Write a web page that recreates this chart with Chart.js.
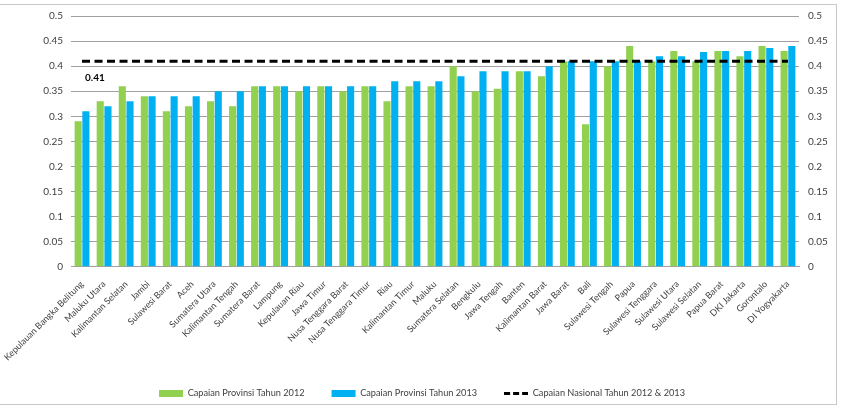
<!DOCTYPE html>
<html>
<head>
<meta charset="utf-8">
<script src="https://cdn.jsdelivr.net/npm/chart.js@4.4.1/dist/chart.umd.min.js"></script>
<style>
    html, body { margin: 0; padding: 0; background: #fff; }
    #wrap { position: relative; width: 844px; height: 408px; }
    #frame { position: absolute; left: -1px; top: 4px; width: 836px; height: 399px; border: 1px solid #c8c8c8; pointer-events: none; }
</style>
</head>
<body>
<div id="wrap">
    <canvas id="capaian" width="844" height="408"></canvas>
    <div id="frame"></div>
</div>
<script>
const provinsi = [
    'Kepulauan Bangka Belitung', 'Maluku Utara', 'Kalimantan Selatan', 'Jambi', 'Sulawesi Barat',
    'Aceh', 'Sumatera Utara', 'Kalimantan Tengah', 'Sumatera Barat', 'Lampung', 'Kepulauan Riau',
    'Jawa Timur', 'Nusa Tenggara Barat', 'Nusa Tenggara Timur', 'Riau', 'Kalimantan Timur', 'Maluku',
    'Sumatera Selatan', 'Bengkulu', 'Jawa Tengah', 'Banten', 'Kalimantan Barat', 'Jawa Barat', 'Bali',
    'Sulawesi Tengah', 'Papua', 'Sulawesi Tenggara', 'Sulawesi Utara', 'Sulawesi Selatan', 'Papua Barat',
    'DKI Jakarta', 'Gorontalo', 'DI Yogyakarta'
]
const capaian2012 = [
    0.29, 0.33, 0.36, 0.34, 0.31, 0.32, 0.33, 0.32, 0.36, 0.36, 0.35,
    0.36, 0.35, 0.36, 0.33, 0.36, 0.36, 0.40, 0.35, 0.355, 0.39, 0.38,
    0.41, 0.284, 0.40, 0.44, 0.41, 0.43, 0.41, 0.43, 0.42, 0.44, 0.43
]
const capaian2013 = [
    0.31, 0.32, 0.33, 0.34, 0.34, 0.34, 0.35, 0.35, 0.36, 0.36, 0.36,
    0.36, 0.36, 0.36, 0.37, 0.37, 0.37, 0.38, 0.39, 0.39, 0.39, 0.40,
    0.41, 0.41, 0.41, 0.41, 0.42, 0.42, 0.428, 0.43, 0.43, 0.436, 0.44
]
const capaianNasional = 0.41
const labelNasional = '0.41'

const hijau = '#92d050'
const biru = '#00b0f0'
const fontFamily = 'Lato, "Liberation Sans", sans-serif'
const warnaTeks = '#404040'

// small dashed sample for the legend entry of the national line
function makeDashIcon() {
    const c = document.createElement('canvas')
    c.width = 24
    c.height = 3
    const ctx = c.getContext('2d')
    ctx.fillStyle = '#000'
    ctx.fillRect(0, 0, 6, 3)
    ctx.fillRect(9, 0, 6, 3)
    ctx.fillRect(18, 0, 6, 3)
    return c
}
const dashIcon = makeDashIcon()

const labelNasionalPlugin = {
    id: 'labelNasional',
    afterDatasetsDraw(chart) {
        const meta = chart.getDatasetMeta(2)
        const pt = meta.data[0]
        if (!pt) return
        const ctx = chart.ctx
        ctx.save()
        ctx.font = 'bold 10px ' + fontFamily
        ctx.fillStyle = '#000'
        ctx.textBaseline = 'middle'
        ctx.textAlign = 'left'
        ctx.fillText(labelNasional, pt.x + 3, pt.y + 17)
        ctx.restore()
    }
}

function tickFormat(v) {
    return String(+v.toFixed(2))
}

function getOptions() {
    return {
        responsive: false,
        animation: false,
        layout: { padding: { top: 16, left: 0, right: 0, bottom: 0 } },
        plugins: {
            tooltip: { enabled: false },
            legend: {
                position: 'bottom',
                labels: {
                    usePointStyle: true,
                    pointStyleWidth: 24,
                    boxHeight: 7,
                    padding: 27,
                    color: warnaTeks,
                    font: { family: fontFamily, size: 9.2 },
                    generateLabels(chart) {
                        return chart.data.datasets.map((ds, i) => ({
                            text: ds.label,
                            datasetIndex: i,
                            fillStyle: ds.type === 'line' ? '#000' : ds.backgroundColor,
                            strokeStyle: ds.type === 'line' ? '#000' : ds.backgroundColor,
                            lineWidth: 0,
                            pointStyle: ds.type === 'line' ? dashIcon : 'rect',
                            fontColor: warnaTeks,
                            hidden: false
                        }))
                    }
                }
            }
        },
        scales: {
            x: {
                grid: { display: false },
                border: { display: true, color: '#a0a0a0' },
                ticks: {
                    autoSkip: false,
                    minRotation: 45,
                    maxRotation: 45,
                    color: warnaTeks,
                    padding: 4,
                    font: { family: fontFamily, size: 9 }
                },
                afterFit(scale) {
                    scale.height = 95
                    scale.paddingLeft = 0
                    scale.paddingRight = 0
                }
            },
            y: {
                position: 'left',
                min: 0,
                max: 0.5,
                grid: { color: '#a0a0a0', drawTicks: false },
                border: { display: false },
                ticks: {
                    stepSize: 0.05,
                    padding: 8,
                    color: warnaTeks,
                    font: { family: fontFamily, size: 10 },
                    callback: tickFormat
                },
                afterFit(scale) { scale.width = 71 }
            },
            y2: {
                position: 'right',
                min: 0,
                max: 0.5,
                grid: { display: false, drawTicks: false },
                border: { display: false },
                ticks: {
                    stepSize: 0.05,
                    padding: 9,
                    color: warnaTeks,
                    font: { family: fontFamily, size: 10 },
                    callback: tickFormat
                },
                afterFit(scale) { scale.width = 45 }
            }
        }
    }
}

new Chart(document.getElementById('capaian'), {
    data: {
        labels: provinsi,
        datasets: [
            {
                type: 'bar',
                label: 'Capaian Provinsi Tahun 2012',
                data: capaian2012,
                backgroundColor: hijau,
                categoryPercentage: 0.7,
                barPercentage: 0.92,
                yAxisID: 'y',
                order: 2
            },
            {
                type: 'bar',
                label: 'Capaian Provinsi Tahun 2013',
                data: capaian2013,
                backgroundColor: biru,
                categoryPercentage: 0.7,
                barPercentage: 0.92,
                yAxisID: 'y',
                order: 2
            },
            {
                type: 'line',
                label: 'Capaian Nasional Tahun 2012 & 2013',
                data: provinsi.map(() => capaianNasional),
                borderColor: '#000',
                backgroundColor: '#000',
                borderWidth: 3,
                borderDash: [8, 4.5],
                pointRadius: 0,
                fill: false,
                yAxisID: 'y',
                order: 1
            }
        ]
    },
    options: getOptions(),
    plugins: [labelNasionalPlugin]
})
</script>
</body>
</html>
